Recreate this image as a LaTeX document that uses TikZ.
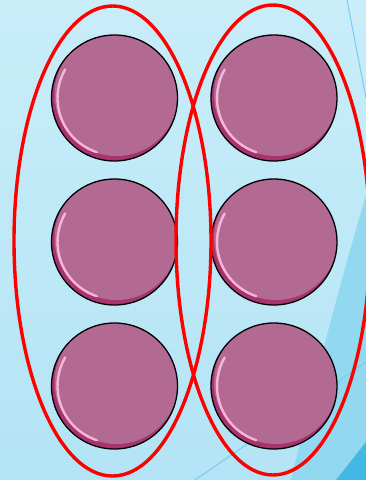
\documentclass[tikz,border=0pt]{standalone}
\begin{document}
\begin{tikzpicture}[x=1pt,y=-1pt,
  ring/.style={draw=red,line width=3.4pt},
  disc/.style={draw=black,line width=1.3pt}]
\definecolor{bgtop}{HTML}{C9EDF9}
\definecolor{bgbot}{HTML}{B3E4F5}
\definecolor{midblue}{HTML}{93D8F1}
\definecolor{darkblue}{HTML}{42B8E4}
\definecolor{lineblue}{HTML}{78CCEE}
\definecolor{discfill}{HTML}{B36A92}
\definecolor{discrim}{HTML}{A8336F}
\definecolor{discshine}{HTML}{F6B6D8}
\useasboundingbox (0,0) rectangle (366,480);
\shade[top color=bgtop,bottom color=bgbot] (0,0) rectangle (366,480);
\fill[midblue] (366,195) .. controls (335,300) and (310,400) .. (291,480) -- (366,480) -- cycle;
\fill[darkblue] (366,442) -- (336,480) -- (366,480) -- cycle;
\draw[lineblue,line width=1pt] (347,0) -- (366,98);
\draw[lineblue,line width=1pt] (195,480) -- (366,362);
\foreach \n/\cx/\cy in {a/114.5/98,b/274/98,c/114.5/242,d/274/242,e/114.5/386,f/274/386}{
  \begin{scope}
    \clip (\cx,\cy) circle (63);
    \fill[discrim] (\cx,\cy) circle (63);
    \fill[discfill] (\cx+2,\cy-4) circle (62);
    \draw[discshine,line width=2.4pt,line cap=round] (\cx,\cy) ++(108:57) arc (108:210:57);
    \fill[discfill] (\cx+3,\cy) circle (56.5);
  \end{scope}
  \draw[disc] (\cx,\cy) circle (63);
  \coordinate (\n) at (\cx,\cy);
}
\draw[ring] (112.5,241) ellipse [x radius=98.5,y radius=235];
\draw[ring] (273,240) ellipse [x radius=97,y radius=235];
\end{tikzpicture}
\end{document}
